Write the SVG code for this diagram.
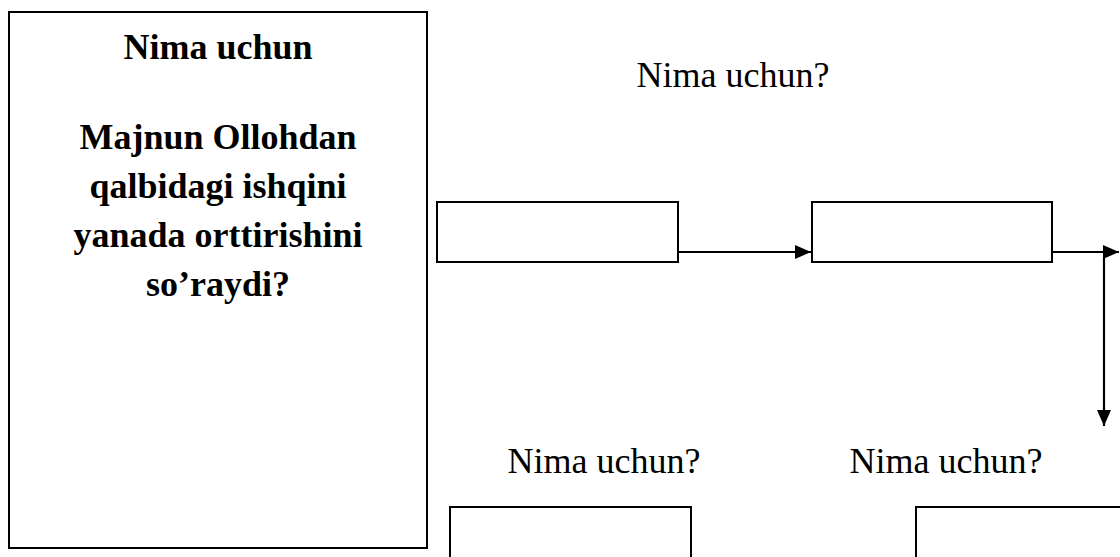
<svg xmlns="http://www.w3.org/2000/svg" width="1120" height="557" viewBox="0 0 1120 557">
<defs>
<style>
.box{fill:#fff;stroke:#000;stroke-width:2}
.b{font-family:"Liberation Serif","Times New Roman",serif;font-weight:bold;font-size:36px;fill:#000;text-anchor:middle}
.r{font-family:"Liberation Serif","Times New Roman",serif;font-size:36px;fill:#000;text-anchor:middle}
.c{fill:none;stroke:#000;stroke-width:2.2}
</style>
<marker id="ah" viewBox="0 0 16 14" refX="16" refY="7" markerWidth="16" markerHeight="14" orient="auto" markerUnits="userSpaceOnUse">
<path d="M0,0 L16,7 L0,14 z" fill="#000"/>
</marker>
</defs>
<rect width="1120" height="557" fill="#fff"/>
<g id="main-question">
<rect class="box" x="9" y="12" width="418" height="536"/>
<text class="b" x="218" y="59">Nima uchun</text>
<text class="b" x="218" y="149">Majnun Ollohdan</text>
<text class="b" x="218" y="198">qalbidagi ishqini</text>
<text class="b" x="218" y="247">yanada orttirishini</text>
<text class="b" x="218" y="296">so’raydi?</text>
</g>
<g id="label-top"><text class="r" x="733" y="87">Nima uchun?</text></g>
<g id="box1"><rect class="box" x="437" y="202" width="241" height="60"/></g>
<g id="box2"><rect class="box" x="812" y="202" width="240" height="60"/></g>
<g id="label-bottom1"><text class="r" x="604" y="473">Nima uchun?</text></g>
<g id="label-bottom2"><text class="r" x="946" y="473">Nima uchun?</text></g>
<g id="box3"><rect class="box" x="450" y="507" width="241" height="60"/></g>
<g id="box4"><rect class="box" x="916" y="507" width="241" height="60"/></g>
<g id="connectors">
<path class="c" d="M678,252 H811" marker-end="url(#ah)"/>
<path class="c" d="M1052,252 H1119" marker-end="url(#ah)"/>
<path class="c" d="M1104,258 V426" marker-end="url(#ah)"/>
</g>
</svg>
